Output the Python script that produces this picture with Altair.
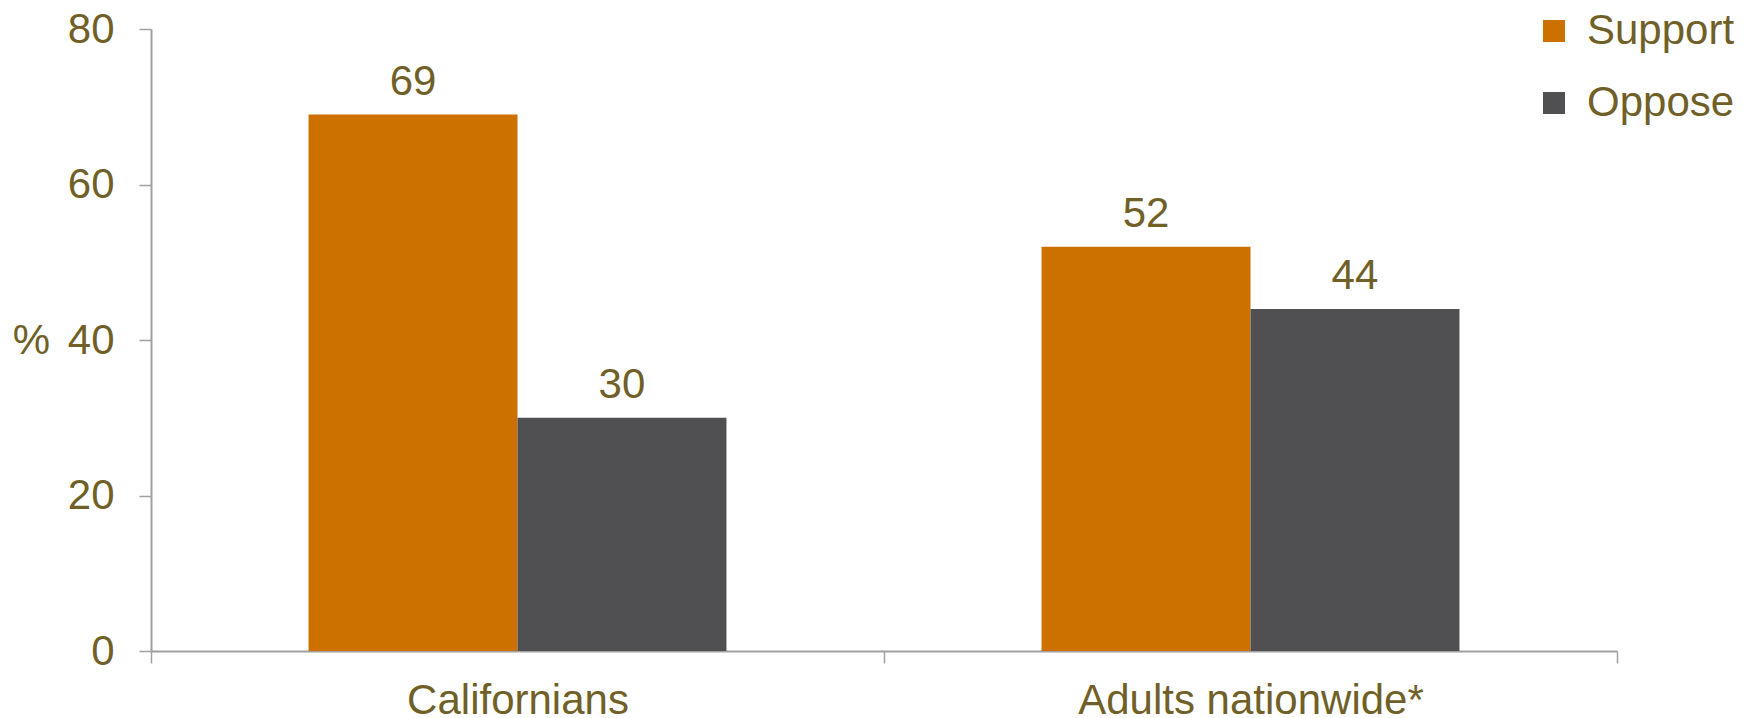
import altair as alt
import pandas as pd

groups = ["Californians", "Adults nationwide*"]
series = ["Support", "Oppose"]
support = [69, 52]
oppose = [30, 44]

colors = ["#CC7000", "#505052"]
text_color = "#715F28"
axis_color = "#A0A0A0"
FONT = "Liberation Sans"
FS = 42

rows = []
for i, g in enumerate(groups):
    rows.append({"group": g, "series": "Support", "value": support[i]})
    rows.append({"group": g, "series": "Oppose", "value": oppose[i]})
df = pd.DataFrame(rows)

x = alt.X(
    "group:N",
    sort=groups,
    scale=alt.Scale(paddingInner=0, paddingOuter=0),
    axis=alt.Axis(
        title=None,
        labelAngle=0,
        labelFontSize=FS,
        labelFont=FONT,
        labelColor=text_color,
        labelPadding=17,
        labelLimit=0,
        tickBand="extent",
        tickSize=12,
        tickColor=axis_color,
        domainColor=axis_color,
        domainWidth=2,
        tickWidth=1.5,
        grid=False,
    ),
)
xoff = alt.XOffset("series:N", sort=series, scale=alt.Scale(paddingInner=0, paddingOuter=0.754))
y = alt.Y(
    "value:Q",
    scale=alt.Scale(domain=[0, 80], nice=False),
    axis=alt.Axis(
        title="%",
        titleAngle=0,
        titleX=-120,
        titleY=311,
        titleAlign="center",
        titleBaseline="middle",
        titleFontSize=FS,
        titleFont=FONT,
        titleFontWeight="normal",
        titleColor=text_color,
        values=[0, 20, 40, 60, 80],
        labelFontSize=FS,
        labelFont=FONT,
        labelColor=text_color,
        labelPadding=25,
        tickSize=12,
        tickColor=axis_color,
        domainColor=axis_color,
        domainWidth=2,
        tickWidth=1.5,
        grid=False,
    ),
)

bars = alt.Chart(df).mark_bar().encode(
    x=x,
    xOffset=xoff,
    y=y,
    color=alt.Color(
        "series:N",
        sort=series,
        scale=alt.Scale(domain=series, range=colors),
        legend=alt.Legend(
            title=None,
            orient="none",
            legendX=1382,
            legendY=-19,
            symbolType="square",
            symbolSize=484,
            symbolStrokeWidth=0,
            labelFontSize=FS,
            labelFont=FONT,
            labelColor=text_color,
            labelOffset=12,
            labelLimit=0,
            rowPadding=30,
        ),
    ),
)

labels = alt.Chart(df).mark_text(
    fontSize=FS, font=FONT, color=text_color, baseline="alphabetic", dy=-20
).encode(
    x=alt.X("group:N", sort=groups),
    xOffset=alt.XOffset("series:N", sort=series),
    y=alt.Y("value:Q"),
    text=alt.Text("value:Q"),
)

chart = (
    alt.layer(bars, labels)
    .properties(
        width=1466,
        height=622,
        autosize=alt.AutoSizeParams(type="none"),
        padding={"left": 143, "top": 21, "right": 129, "bottom": 67},
    )
    .configure_view(stroke=None)
)

chart.save("out.html", embed_options={"renderer": "svg", "actions": False})
